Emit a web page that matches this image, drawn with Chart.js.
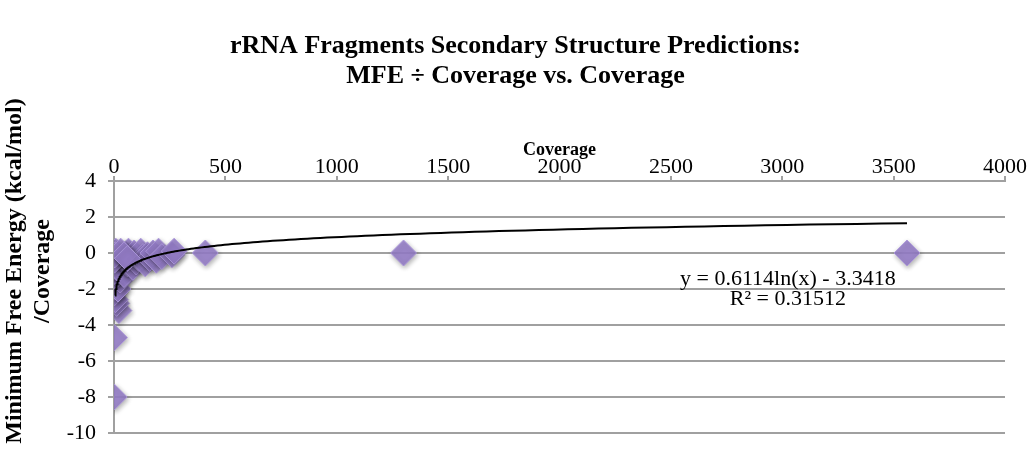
<!DOCTYPE html>
<html>
<head>
<meta charset="utf-8">
<script src="https://cdn.jsdelivr.net/npm/chart.js@4"></script>
<style>
  body { margin: 0; background: #fff; }
  #wrap { width: 1035px; height: 460px; }
</style>
</head>
<body>
<div id="wrap"><canvas id="mfeChart"></canvas></div>
<script>
// coverage (x) and MFE / coverage (y)
const coverage = [1, 2, 22, 12, 6, 3, 4, 8, 18, 28, 5, 3, 10, 7, 15, 20, 25, 30, 35, 40, 45, 50,
  55, 60, 65, 70, 80, 85, 90, 100, 110, 120, 130, 140, 150, 160, 175, 190, 200, 215, 260, 270,
  12, 5, 8, 15, 2, 4, 30, 45, 60, 410, 1300, 3560];
const mfePerCov = [-8, -4.7, -3.2, -2.8, -2.6, -2.2, -1.9, -1.6, -2.0, -1.5, -1.3, -1.0, -1.1, -0.8,
  -0.6, -0.9, -0.4, -0.7, -0.2, -0.5, -1.2, -0.3, -0.1, -0.6, 0.1, -0.4, -0.2, -0.8, 0, -0.5, -0.3,
  0.1, -0.2, -0.6, -0.1, -0.3, 0, -0.4, 0.1, -0.2, -0.1, 0.1, 0, -0.2, 0.1, 0, -0.4, -0.1,
  0.1, -0.1, -0.3, 0, 0, 0];

// log trendline shown on the chart: y = 0.6114ln(x) - 3.3418
const TREND_A = 0.6114;
const TREND_B = -3.3418;
const trendFrom = 5, trendTo = 3560;

const xTicks = [0, 500, 1000, 1500, 2000, 2500, 3000, 3500, 4000];
const yTicks = [4, 2, 0, -2, -4, -6, -8, -10];

const chartTitle = ['rRNA Fragments Secondary Structure Predictions:', 'MFE \u00f7 Coverage vs. Coverage'];
const xTitle = 'Coverage';
const yTitle = ['Minimum Free Energy (kcal/mol)', '/Coverage'];
const trendText = ['y = 0.6114ln(x) - 3.3418', 'R\u00b2 = 0.31512'];

const SERIF = "'Liberation Serif', 'Times New Roman', serif";
const GRID = '#a0a0a0';

const points = coverage.map((c, i) => ({ x: c, y: mfePerCov[i] }));

// trendline points from the equation
const trend = [];
for (let i = 0; i <= 200; i++) {
  const x = trendFrom * Math.pow(trendTo / trendFrom, i / 200);
  trend.push({ x: x, y: TREND_A * Math.log(x) + TREND_B });
}

// axis title for y and the trendline label
const extraText = {
  id: 'extraText',
  afterDraw(chart) {
    const ctx = chart.ctx;
    const xs = chart.scales.x, ys = chart.scales.y;
    ctx.save();
    ctx.fillStyle = '#000';
    ctx.textAlign = 'center';
    ctx.textBaseline = 'middle';
    ctx.font = 'bold 24px ' + SERIF;
    ctx.translate(15, 271);
    ctx.rotate(-Math.PI / 2);
    ctx.fillText(yTitle[0], 0, 0);
    ctx.fillText(yTitle[1], 0, 28);
    ctx.restore();

    ctx.save();
    ctx.fillStyle = '#000';
    ctx.textAlign = 'center';
    ctx.textBaseline = 'middle';
    ctx.font = '22px ' + SERIF;
    const tx = xs.getPixelForValue(3025);
    ctx.fillText(trendText[0], tx, ys.getPixelForValue(-1.45));
    ctx.fillText(trendText[1], tx, ys.getPixelForValue(-2.55));
    ctx.restore();
  }
};

// soft shadow under the diamonds
const diamondShadow = {
  id: 'diamondShadow',
  beforeDatasetDraw(chart, args) {
    if (args.index !== 1) return;
    const ctx = chart.ctx;
    ctx.save();
    ctx.shadowColor = 'rgba(0,0,0,0.35)';
    ctx.shadowBlur = 5;
    ctx.shadowOffsetX = 1;
    ctx.shadowOffsetY = 2;
  },
  afterDatasetDraw(chart, args) {
    if (args.index !== 1) return;
    chart.ctx.restore();
  }
};

new Chart(document.getElementById('mfeChart'), {
  type: 'scatter',
  data: {
    datasets: [
      {
        label: 'Log. trend',
        data: trend,
        showLine: true,
        borderColor: '#000',
        borderWidth: 2,
        pointRadius: 0,
        fill: false,
        order: 0
      },
      {
        label: 'MFE / Coverage',
        data: points,
        pointStyle: 'rectRot',
        pointRadius: 13,
        backgroundColor: 'rgba(150,126,202,0.88)',
        borderColor: 'rgba(172,152,218,0.9)',
        borderWidth: 1,
        order: 1
      }
    ]
  },
  options: {
    responsive: true,
    maintainAspectRatio: false,
    animation: false,
    layout: { padding: { left: 26, right: 30, top: 0, bottom: 27 } },
    plugins: {
      legend: { display: false },
      tooltip: { enabled: false },
      title: {
        display: true,
        text: chartTitle,
        color: '#000',
        font: { family: SERIF, size: 26, weight: 'bold', lineHeight: 30 / 26 },
        padding: { top: 31, bottom: 0 }
      }
    },
    scales: {
      x: {
        type: 'linear',
        position: 'top',
        min: 0,
        max: 4000,
        afterBuildTicks: s => { s.ticks = xTicks.map(v => ({ value: v })); },
        afterFit: s => { s.height = 90; },
        ticks: {
          color: '#000', font: { family: SERIF, size: 22 }, padding: -4, maxRotation: 0,
          callback: v => String(v)
        },
        grid: { drawOnChartArea: false, drawTicks: true, tickLength: 5, color: GRID, lineWidth: 2 },
        border: { display: true, color: GRID, width: 2 },
        title: {
          display: true,
          text: xTitle,
          color: '#000',
          font: { family: SERIF, size: 18, weight: 'bold' },
          padding: { top: 49, bottom: 0 }
        }
      },
      y: {
        type: 'linear',
        min: -10,
        max: 4,
        afterBuildTicks: s => { s.ticks = yTicks.map(v => ({ value: v })); },
        afterFit: s => { s.width = 88; },
        ticks: { color: '#000', font: { family: SERIF, size: 22 }, padding: 12, callback: v => String(v) },
        grid: { color: GRID, lineWidth: 2, drawTicks: true, tickLength: 6 },
        border: { display: true, color: GRID, width: 2 }
      }
    }
  },
  plugins: [extraText, diamondShadow]
});
</script>
</body>
</html>
